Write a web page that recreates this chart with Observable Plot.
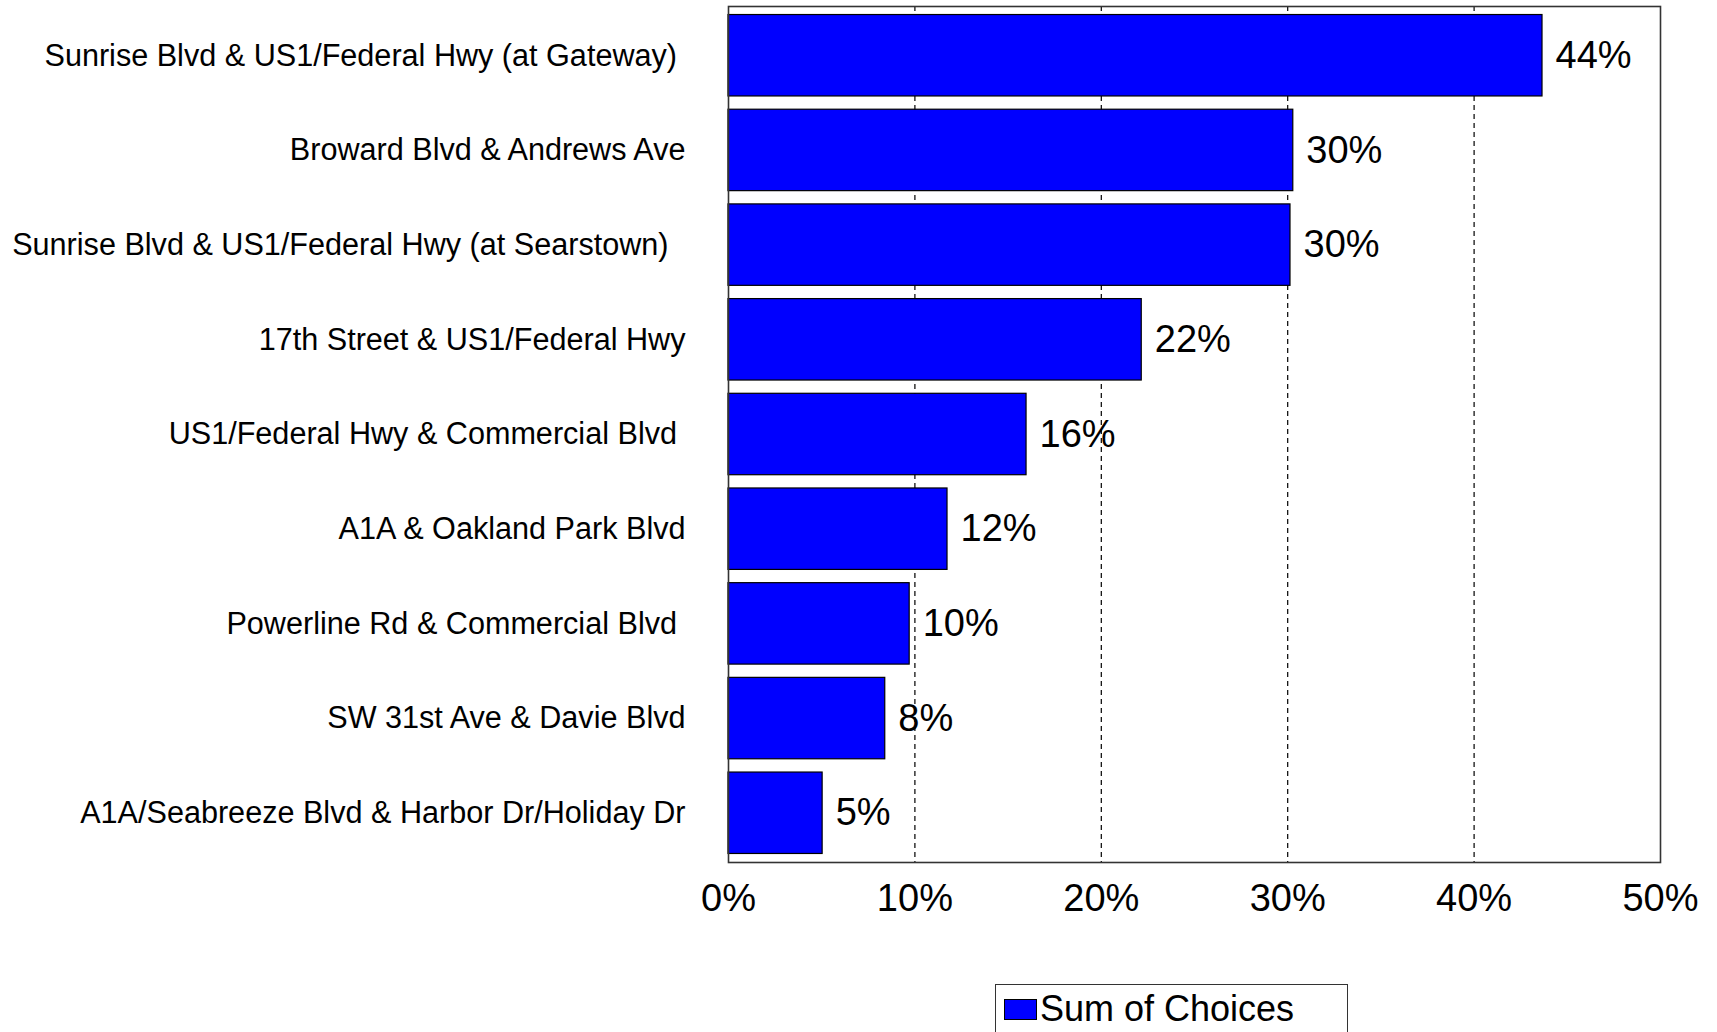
<!DOCTYPE html>
<html>
<head>
<meta charset="utf-8">
<script src="https://cdn.jsdelivr.net/npm/d3@7"></script>
<script src="https://cdn.jsdelivr.net/npm/@observablehq/plot@0.6"></script>
<style>
  html, body { margin: 0; padding: 0; background: #fff; overflow: hidden; }
  body { width: 1717px; height: 1032px; position: relative; font-family: "Liberation Sans", Arial, sans-serif; }
  #chart { position: absolute; left: 0; top: 0; }
  #legend { position: absolute; left: 995px; top: 984px; width: 353px; height: 70px; border: 1.5px solid #333; box-sizing: border-box; }
  #legend .sw { position: absolute; left: 8px; top: 14px; width: 33px; height: 21px; background: #0000ff; border: 1px solid #000; box-sizing: border-box; }
  #legend .lab { position: absolute; left: 44px; top: 4px; font-size: 36px; line-height: 40px; color: #000; white-space: nowrap; }
</style>
</head>
<body>
<div id="chart"></div>
<div id="legend"><div class="sw"></div><div class="lab"></div></div>
<script>
const categories = [
  "Sunrise Blvd & US1/Federal Hwy (at Gateway)\u00A0",
  "Broward Blvd & Andrews Ave",
  "Sunrise Blvd & US1/Federal Hwy (at Searstown)\u00A0\u00A0",
  "17th Street & US1/Federal Hwy",
  "US1/Federal Hwy & Commercial Blvd\u00A0",
  "A1A & Oakland Park Blvd",
  "Powerline Rd & Commercial Blvd\u00A0",
  "SW 31st Ave & Davie Blvd",
  "A1A/Seabreeze Blvd & Harbor Dr/Holiday Dr"
];
const values = [43.67, 30.3, 30.15, 22.17, 15.99, 11.75, 9.72, 8.41, 5.05];
const valueLabels = ["44%", "30%", "30%", "22%", "16%", "12%", "10%", "8%", "5%"];
const xTicks = [0, 10, 20, 30, 40, 50];
const gridTicks = [10, 20, 30, 40];
const seriesName = "Sum of Choices";

const data = categories.map((c, i) => ({category: c, value: values[i], label: valueLabels[i]}));

const chart = Plot.plot({
  width: 1717,
  height: 975,
  marginTop: 6,
  marginBottom: 113,
  marginLeft: 728,
  marginRight: 57,
  style: {fontFamily: "'Liberation Sans', Arial, sans-serif", color: "#000", background: "#fff"},
  x: {domain: [0, 50], ticks: xTicks, tickFormat: d => d + "%", label: null},
  y: {domain: categories, label: null, paddingInner: 0.14, paddingOuter: 0.09, round: false},
  marks: [
    Plot.ruleX(gridTicks, {stroke: "#000", strokeWidth: 1.2, strokeDasharray: "5,4"}),
    Plot.barX(data, {x: "value", y: "category", fill: "#0000ff", stroke: "#000", strokeWidth: 1.2}),
    Plot.text(data, {x: "value", y: "category", text: "label", textAnchor: "start", dx: 13, dy: 0, fontSize: 38, fill: "#000"}),
    Plot.frame({stroke: "#333", strokeWidth: 1.6}),
    Plot.axisX({anchor: "bottom", ticks: xTicks, tickFormat: d => d + "%", tickSize: 0, tickPadding: 22, fontSize: 38, label: null}),
    Plot.axisY({anchor: "left", tickSize: 0, tickPadding: 43, fontSize: 30.6, label: null})
  ]
});
document.getElementById("chart").appendChild(chart);
document.querySelector("#legend .lab").textContent = seriesName;
</script>
</body>
</html>
